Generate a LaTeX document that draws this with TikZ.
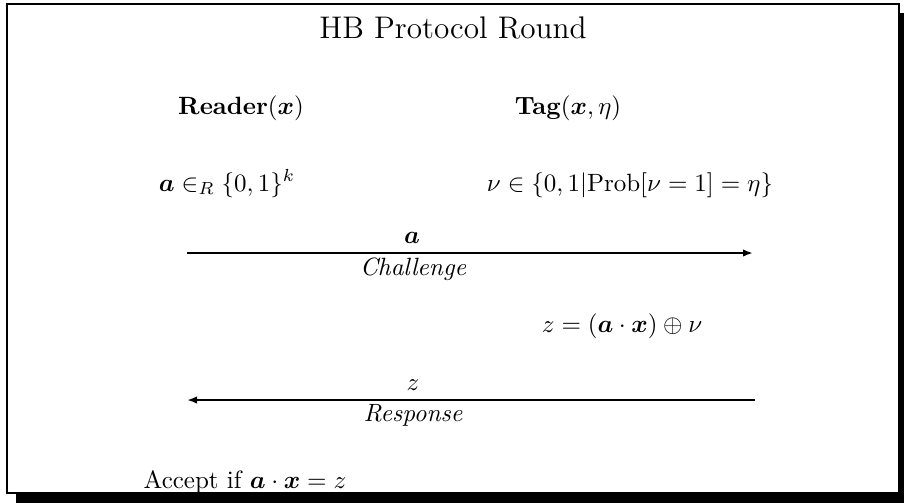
\documentclass[tikz,border=0pt]{standalone}
\usepackage{amsmath,amssymb}
\usetikzlibrary{arrows.meta}
\begin{document}
\begin{tikzpicture}[x=0.4pt,y=-0.4pt,
  lbl/.style={inner sep=0pt, anchor=base},
  msg/.style={-{Latex[length=4pt,width=3pt]}, line width=0.8pt},
  frame/.style={line width=0.8pt, fill=white}]
\useasboundingbox (0,0) rectangle (904,502);
\fill[black] (16,13) rectangle (912,506);
\draw[frame] (7,4) rectangle (899,493);
\node[lbl, font=\fontsize{12.5}{15}\selectfont] (title) at (453,38) {HB Protocol Round};
\node[lbl] (reader) at (241,114) {$\textbf{Reader}(\boldsymbol{x})$};
\node[lbl] (tag) at (568,114) {$\textbf{Tag}(\boldsymbol{x},\eta)$};
\node[lbl] (achoice) at (227,191) {$\boldsymbol{a}\in_R\{0,1\}^k$};
\node[lbl] (nu) at (630,191) {$\nu\in\{0,1|\mathrm{Prob}[\nu=1]=\eta\}$};
\coordinate (c1s) at (187,253);
\coordinate (c1e) at (753,253);
\draw[msg] (c1s) -- (c1e);
\node[lbl] (alab) at (412,243) {$\boldsymbol{a}$};
\node[lbl] (chal) at (414,275) {$\mathit{Challenge}$};
\node[lbl] (zeq) at (622,332) {$z=(\boldsymbol{a}\cdot\boldsymbol{x})\oplus\nu$};
\coordinate (c2s) at (755,400);
\coordinate (c2e) at (187,400);
\draw[msg] (c2s) -- (c2e);
\node[lbl] (zlab) at (413,390) {$z$};
\node[lbl] (resp) at (414,421) {$\mathit{Response}$};
\node[lbl] (accept) at (245,488) {Accept if $\boldsymbol{a}\cdot\boldsymbol{x}=z$};
\end{tikzpicture}
\end{document}
